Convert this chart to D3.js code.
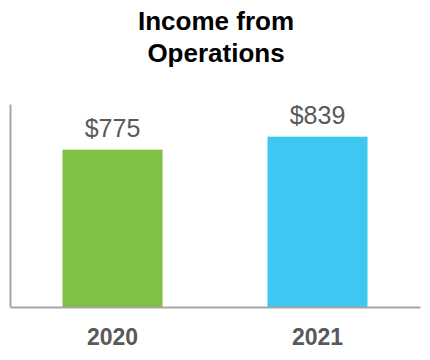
<!DOCTYPE html>
<html>
<head>
<meta charset="utf-8">
<script src="https://cdn.jsdelivr.net/npm/d3@7"></script>
<style>
  body { margin: 0; background: #fff; }
  svg text { font-family: "Liberation Sans", Arial, sans-serif; }
</style>
</head>
<body>
<svg id="chart" width="430" height="360"></svg>
<script>
var years = ["2020", "2021"];
var income = [775, 839];
var barColors = ["#7dc242", "#3dc8f2"];
var titleLines = ["Income from", "Operations"];

var svg = d3.select("#chart");

// title, two lines
svg.append("text")
  .attr("x", 216)
  .attr("y", 30)
  .attr("text-anchor", "middle")
  .style("font-size", "26px")
  .style("font-weight", "bold")
  .style("fill", "#000")
  .selectAll("tspan")
  .data(titleLines)
  .enter().append("tspan")
    .attr("x", 216)
    .attr("dy", function (d, i) { return i ? 32 : 0; })
    .text(function (d) { return d; });

var x = d3.scaleBand()
  .domain(years)
  .range([10, 420])
  .paddingInner(0.512)
  .paddingOuter(0.256);

var y = d3.scaleLinear()
  .domain([0, 1000])
  .range([307, 104]);

// bars
svg.selectAll("rect.bar")
  .data(income)
  .enter().append("rect")
    .attr("class", "bar")
    .attr("x", function (d, i) { return x(years[i]); })
    .attr("y", function (d) { return y(d); })
    .attr("width", x.bandwidth())
    .attr("height", function (d) { return y(0) - y(d); })
    .attr("fill", function (d, i) { return barColors[i]; });

// value labels
svg.selectAll("text.val")
  .data(income)
  .enter().append("text")
    .attr("class", "val")
    .attr("x", function (d, i) { return x(years[i]) + x.bandwidth() / 2; })
    .attr("y", function (d) { return y(d) - 13; })
    .attr("text-anchor", "middle")
    .style("font-size", "25px")
    .style("fill", "#595959")
    .text(function (d) { return "$" + d; });

// axes
var xAxis = svg.append("g")
  .attr("transform", "translate(0," + y(0) + ")")
  .call(d3.axisBottom(x).tickSize(0).tickPadding(22));
xAxis.select(".domain").attr("stroke", "#a6a6a6").attr("stroke-width", 2);
xAxis.selectAll("text")
  .style("font-size", "23px")
  .style("font-weight", "bold")
  .style("fill", "#595959")
  .style("font-family", "'Liberation Sans', Arial, sans-serif");

var yAxis = svg.append("g")
  .attr("transform", "translate(10,0)")
  .call(d3.axisLeft(y).ticks(0).tickSize(0));
yAxis.select(".domain").attr("stroke", "#a6a6a6").attr("stroke-width", 2);
</script>
</body>
</html>
